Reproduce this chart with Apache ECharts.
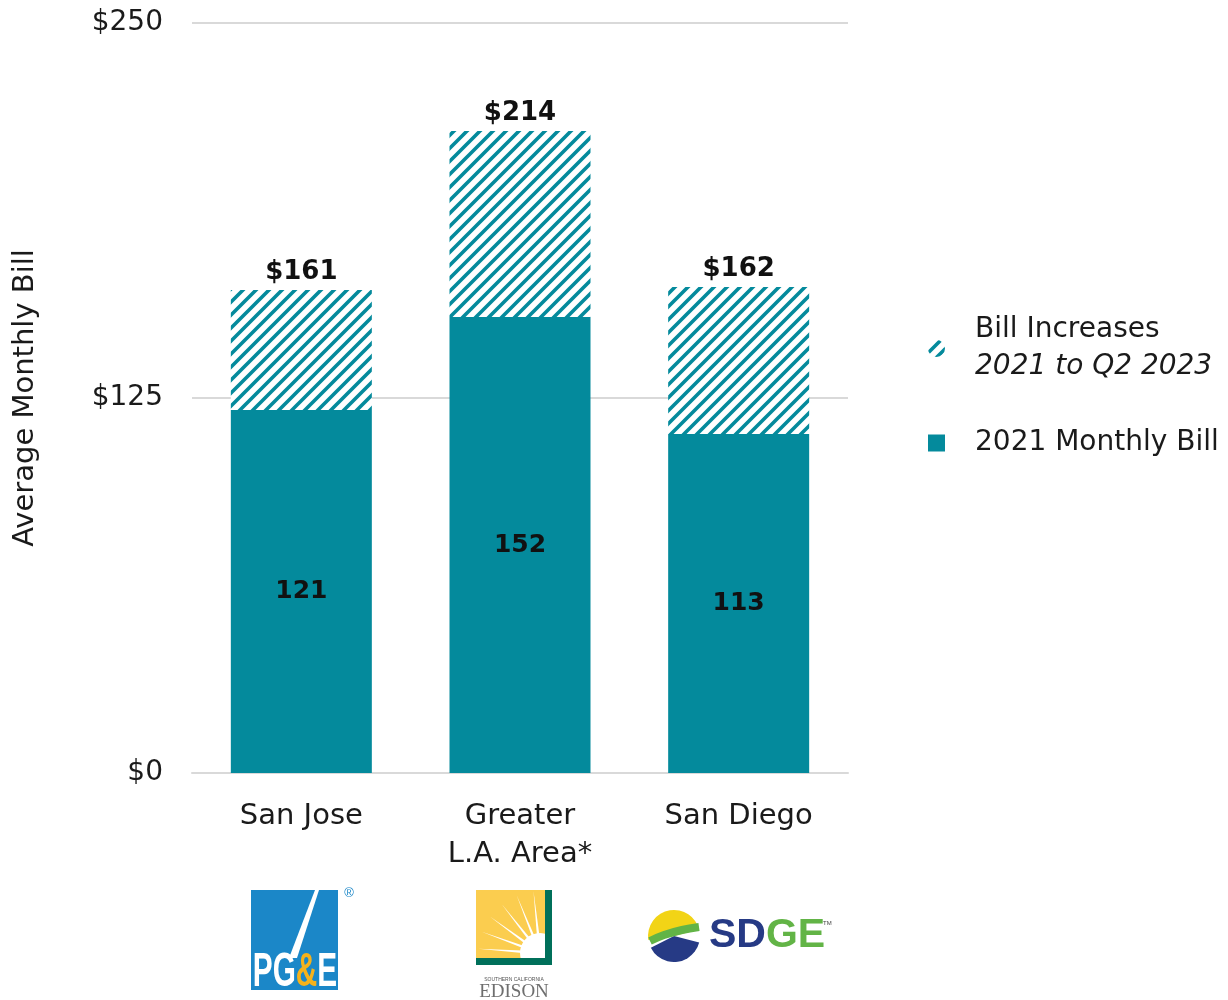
<!DOCTYPE html>
<html>
<head>
<meta charset="utf-8">
<title>Average Monthly Bill</title>
<script src="https://cdn.jsdelivr.net/npm/echarts@6/dist/echarts.min.js"></script>
<style>
  html, body { margin: 0; padding: 0; background: #fff; }
  #bill_chart { width: 1228px; height: 1000px; }
</style>
</head>
<body>
<div id="bill_chart"></div>
<script>
// Chart data
// ------------------------------

var cities = ["San Jose", "Greater\nL.A. Area*", "San Diego"];
var baseBill2021 = [121, 152, 113];
var billIncrease = [40, 62, 49];
var yTicks = [0, 125, 250];

var seriesNames = ["Bill Increases", "2021 Monthly Bill"];

// Setup module
// ------------------------------

var BillChart = (function () {
  var TEAL = "#048a9c";
  var FONT = "'DejaVu Sans', sans-serif";

  // Diagonal stripe pattern for the increase part
  var makeStripes = function () {
    var s = 13;
    var c = document.createElement("canvas");
    c.width = s;
    c.height = s;
    var ctx = c.getContext("2d");
    ctx.fillStyle = "#fff";
    ctx.fillRect(0, 0, s, s);
    ctx.strokeStyle = TEAL;
    ctx.lineWidth = 3.6;
    ctx.lineCap = "square";
    ctx.beginPath();
    ctx.moveTo(0, s);
    ctx.lineTo(s, 0);
    ctx.moveTo(-2, 2);
    ctx.lineTo(2, -2);
    ctx.moveTo(s - 2, s + 2);
    ctx.lineTo(s + 2, s - 2);
    ctx.stroke();
    return c;
  };

  // Simplified company logos under the axis
  var logos = function () {
    var els = [];

    // PG&E
    els.push({ type: "rect", shape: { x: 251, y: 890, width: 87, height: 100 }, style: { fill: "#1b87c8" } });
    els.push({ type: "polygon", shape: { points: [[315, 890], [319, 890], [297, 958], [289, 958]] }, style: { fill: "#fff" } });
    els.push({
      type: "text", x: 295, y: 973, scaleX: 0.62,
      style: {
        text: "{w|PG}{y|&}{w|E}", align: "center", verticalAlign: "middle",
        rich: {
          w: { fill: "#fff", font: "bold 48px 'Liberation Sans Narrow', sans-serif" },
          y: { fill: "#f6b21b", font: "bold 48px 'Liberation Sans Narrow', sans-serif" }
        }
      }
    });
    els.push({ type: "text", x: 349, y: 893, style: { text: "®", fill: "#1b87c8", font: "13px sans-serif", align: "center", verticalAlign: "middle" } });

    // Edison
    els.push({ type: "rect", shape: { x: 476, y: 890, width: 76, height: 75 }, style: { fill: "#fbcd4f" } });
    els.push({ type: "circle", shape: { cx: 540, cy: 953, r: 20 }, style: { fill: "#fff" } });
    var rayAngles = [184, 200, 216, 232, 248, 264];
    rayAngles.forEach(function (a) {
      var r1 = (a - 4) * Math.PI / 180, r2 = (a + 4) * Math.PI / 180, rm = a * Math.PI / 180;
      els.push({
        type: "polygon",
        shape: { points: [
          [540 + 18 * Math.cos(r1), 953 + 18 * Math.sin(r1)],
          [540 + 62 * Math.cos(rm), 953 + 62 * Math.sin(rm)],
          [540 + 18 * Math.cos(r2), 953 + 18 * Math.sin(r2)]
        ] },
        style: { fill: "#fff" }
      });
    });
    els.push({ type: "rect", shape: { x: 545, y: 890, width: 7, height: 75 }, style: { fill: "#00705a" } });
    els.push({ type: "rect", shape: { x: 476, y: 958, width: 76, height: 7 }, style: { fill: "#00705a" } });
    els.push({ type: "text", x: 514, y: 980, style: { text: "SOUTHERN CALIFORNIA", fill: "#555", font: "5px 'Liberation Sans Narrow', sans-serif", align: "center", verticalAlign: "middle" } });
    els.push({ type: "text", x: 514, y: 992, style: { text: "EDISON", fill: "#6e6e6e", font: "19px 'Liberation Serif', serif", align: "center", verticalAlign: "middle" } });

    // SDGE
    els.push({ type: "sector", shape: { cx: 674, cy: 936, r: 26, r0: 0, startAngle: Math.PI * 0.95, endAngle: Math.PI * 1.92 }, style: { fill: "#f2d416" } });
    els.push({ type: "sector", shape: { cx: 674, cy: 936, r: 26, r0: 0, startAngle: Math.PI * 0.08, endAngle: Math.PI * 0.85 }, style: { fill: "#263a85" } });
    els.push({ type: "polyline", shape: { points: [[650, 941], [664, 935], [682, 930], [699, 927]], smooth: 0.4 }, style: { stroke: "#62b446", lineWidth: 8, fill: null } });
    els.push({
      type: "text", x: 709, y: 936,
      style: {
        text: "{n|SD}{g|GE}", verticalAlign: "middle",
        rich: {
          n: { fill: "#263a85", font: "bold 41px 'Liberation Sans', sans-serif" },
          g: { fill: "#62b446", font: "bold 41px 'Liberation Sans', sans-serif" }
        }
      }
    });
    els.push({ type: "text", x: 823, y: 920, style: { text: "TM", fill: "#444", font: "6px sans-serif" } });

    return els;
  };

  var _billChart = function () {
    if (typeof echarts == "undefined") {
      console.warn("Warning - echarts.min.js is not loaded.");
      return;
    }

    var bill_element = document.getElementById("bill_chart");
    if (!bill_element) return;

    var bill_chart = echarts.init(bill_element);
    var stripes = { image: makeStripes(), repeat: "repeat" };

    // Bar totals for the labels above each bar
    var totals = baseBill2021.map(function (v, i) {
      return v + billIncrease[i];
    });

    bill_chart.setOption({
      animation: false,

      textStyle: {
        fontFamily: FONT,
        color: "#1a1a1a"
      },

      grid: {
        left: 192,
        right: 380,
        top: 23,
        bottom: 227,
        outerBoundsMode: "none"
      },

      legend: {
        orient: "vertical",
        left: 923,
        top: 311,
        itemWidth: 17,
        itemHeight: 17,
        itemGap: 48,
        selectedMode: false,
        data: [
          { name: seriesNames[0], icon: "circle" },
          { name: seriesNames[1], icon: "rect" }
        ],
        formatter: function (name) {
          if (name === seriesNames[0]) {
            return "{a|Bill Increases}\n{b|2021 to Q2 2023}";
          }
          return "{a|" + name + "}";
        },
        textStyle: {
          rich: {
            a: { fontFamily: FONT, fontSize: 28, color: "#1a1a1a", lineHeight: 37, padding: [0, 0, 0, 25] },
            b: { fontFamily: FONT, fontSize: 28, fontStyle: "italic", color: "#1a1a1a", lineHeight: 37, padding: [0, 0, 0, 25] }
          }
        }
      },

      xAxis: {
        type: "category",
        data: cities,
        axisTick: { show: false },
        axisLine: { lineStyle: { color: "#d9d9d9", width: 2 } },
        axisLabel: {
          fontSize: 29,
          lineHeight: 38,
          margin: 24,
          color: "#1a1a1a"
        }
      },

      yAxis: {
        type: "value",
        min: yTicks[0],
        max: yTicks[yTicks.length - 1],
        interval: yTicks[1] - yTicks[0],
        name: "Average Monthly Bill",
        nameLocation: "middle",
        nameRotate: 90,
        nameGap: 152,
        nameTextStyle: { fontSize: 29, color: "#1a1a1a" },
        axisLine: { show: false },
        axisTick: { show: false },
        axisLabel: {
          fontSize: 28,
          margin: 29,
          color: "#1a1a1a",
          formatter: function (v) {
            return "$" + v;
          }
        },
        splitLine: { lineStyle: { color: "#d9d9d9", width: 2 } }
      },

      series: [
        {
          name: seriesNames[1],
          type: "bar",
          stack: "bill",
          barWidth: 141,
          data: baseBill2021,
          itemStyle: { color: TEAL },
          label: {
            show: true,
            position: "inside",
            fontSize: 25,
            fontWeight: "bold",
            color: "#111"
          }
        },
        {
          name: seriesNames[0],
          type: "bar",
          stack: "bill",
          barWidth: 141,
          data: billIncrease,
          itemStyle: { color: stripes },
          label: {
            show: true,
            position: "top",
            distance: 5,
            fontSize: 26,
            fontWeight: "bold",
            color: "#111",
            formatter: function (p) {
              return "$" + totals[p.dataIndex];
            }
          }
        }
      ],

      graphic: logos()
    });

    // Resize chart
    window.addEventListener("resize", function () {
      bill_chart.resize();
    });
  };

  return {
    init: function () {
      _billChart();
    }
  };
})();

document.addEventListener("DOMContentLoaded", function () {
  BillChart.init();
});
</script>
</body>
</html>
